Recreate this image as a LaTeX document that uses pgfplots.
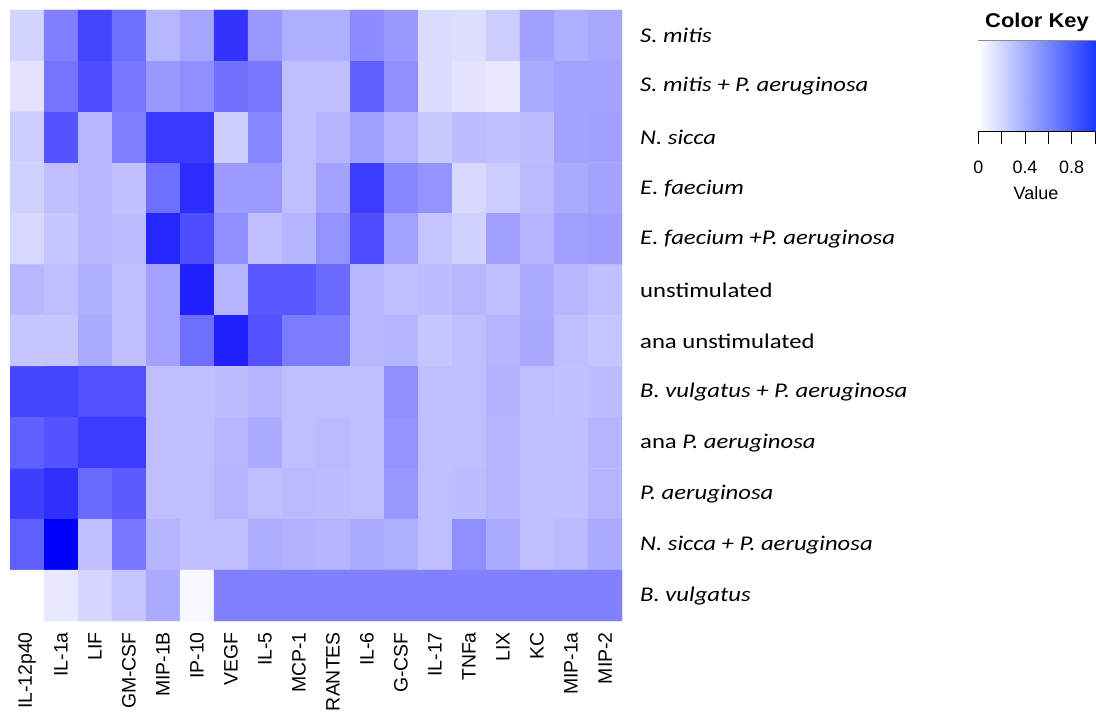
\documentclass[border=0pt]{standalone}
\usepackage{pgfplots}
\pgfplotsset{compat=1.18}
\usepackage{graphicx}
\usepackage{fontspec}
\setmainfont{Liberation Sans}
\newfontfamily\rowfont{Carlito}
% row names are set slightly wide
\newcommand\rl[1]{\scalebox{1.18}[1]{#1}}

% cytokine levels (scaled 0..1): column index, row index, value
\pgfplotstableread{
c r v
0 0 0.17
1 0 0.50
2 0 0.73
3 0 0.56
4 0 0.28
5 0 0.35
6 0 0.79
7 0 0.40
8 0 0.31
9 0 0.31
10 0 0.45
11 0 0.40
12 0 0.14
13 0 0.13
14 0 0.20
15 0 0.37
16 0 0.31
17 0 0.34
0 1 0.11
1 1 0.54
2 1 0.69
3 1 0.53
4 1 0.40
5 1 0.44
6 1 0.55
7 1 0.53
8 1 0.25
9 1 0.25
10 1 0.62
11 1 0.44
12 1 0.14
13 1 0.11
14 1 0.09
15 1 0.33
16 1 0.36
17 1 0.36
0 2 0.20
1 2 0.67
2 2 0.28
3 2 0.50
4 2 0.77
5 2 0.77
6 2 0.19
7 2 0.47
8 2 0.25
9 2 0.29
10 2 0.37
11 2 0.29
12 2 0.21
13 2 0.26
14 2 0.24
15 2 0.26
16 2 0.36
17 2 0.37
0 3 0.18
1 3 0.25
2 3 0.28
3 3 0.24
4 3 0.56
5 3 0.82
6 3 0.39
7 3 0.39
8 3 0.25
9 3 0.36
10 3 0.76
11 3 0.47
12 3 0.42
13 3 0.15
14 3 0.20
15 3 0.27
16 3 0.33
17 3 0.36
0 4 0.15
1 4 0.22
2 4 0.28
3 4 0.26
4 4 0.84
5 4 0.69
6 4 0.44
7 4 0.25
8 4 0.29
9 4 0.42
10 4 0.69
11 4 0.36
12 4 0.23
13 4 0.18
14 4 0.37
15 4 0.29
16 4 0.37
17 4 0.38
0 5 0.28
1 5 0.25
2 5 0.31
3 5 0.25
4 5 0.36
5 5 0.87
6 5 0.29
7 5 0.65
8 5 0.65
9 5 0.58
10 5 0.28
11 5 0.25
12 5 0.26
13 5 0.28
14 5 0.25
15 5 0.33
16 5 0.28
17 5 0.25
0 6 0.22
1 6 0.22
2 6 0.33
3 6 0.25
4 6 0.36
5 6 0.56
6 6 0.87
7 6 0.67
8 6 0.51
9 6 0.51
10 6 0.28
11 6 0.29
12 6 0.22
13 6 0.25
14 6 0.29
15 6 0.34
16 6 0.25
17 6 0.23
0 7 0.73
1 7 0.73
2 7 0.68
3 7 0.68
4 7 0.25
5 7 0.25
6 7 0.26
7 7 0.29
8 7 0.25
9 7 0.25
10 7 0.25
11 7 0.44
12 7 0.25
13 7 0.25
14 7 0.30
15 7 0.25
16 7 0.24
17 7 0.26
0 8 0.62
1 8 0.67
2 8 0.76
3 8 0.76
4 8 0.25
5 8 0.25
6 8 0.28
7 8 0.33
8 8 0.25
9 8 0.27
10 8 0.25
11 8 0.42
12 8 0.25
13 8 0.25
14 8 0.29
15 8 0.25
16 8 0.25
17 8 0.29
0 9 0.75
1 9 0.81
2 9 0.58
3 9 0.64
4 9 0.25
5 9 0.25
6 9 0.29
7 9 0.25
8 9 0.27
9 9 0.26
10 9 0.25
11 9 0.40
12 9 0.25
13 9 0.26
14 9 0.29
15 9 0.25
16 9 0.25
17 9 0.29
0 10 0.62
1 10 1.00
2 10 0.25
3 10 0.53
4 10 0.29
5 10 0.25
6 10 0.25
7 10 0.32
8 10 0.30
9 10 0.29
10 10 0.33
11 10 0.31
12 10 0.25
13 10 0.44
14 10 0.33
15 10 0.25
16 10 0.27
17 10 0.33
0 11 0.00
1 11 0.09
2 11 0.16
3 11 0.22
4 11 0.33
5 11 0.03
6 11 0.49
7 11 0.49
8 11 0.49
9 11 0.49
10 11 0.49
11 11 0.49
12 11 0.49
13 11 0.49
14 11 0.49
15 11 0.49
16 11 0.49
17 11 0.49
}\cytokines

\begin{document}
\begin{tikzpicture}[x=1bp,y=1bp]
\path[use as bounding box] (0,0) rectangle (1096,717);

% heat map
\begin{axis}[
  at={(10bp,96bp)}, anchor=south west,
  scale only axis, width=612bp, height=611bp,
  xmin=-0.5, xmax=17.5, ymin=-0.5, ymax=11.5, y dir=reverse,
  axis line style={draw=none}, major tick length=0pt,
  xtick={0,...,17}, ytick={0,...,11},
  xticklabels={IL-12p40,IL-1a,LIF,GM-CSF,MIP-1B,IP-10,VEGF,IL-5,MCP-1,RANTES,IL-6,G-CSF,IL-17,TNFa,LIX,KC,MIP-1a,MIP-2},
  yticklabels={
    \rl{\textit{S. mitis}},
    \rl{\textit{S. mitis + P. aeruginosa}},
    \rl{\textit{N. sicca}},
    \rl{\textit{E. faecium}},
    \rl{\textit{E. faecium +P. aeruginosa}},
    \rl{unstimulated},
    \rl{ana unstimulated},
    \rl{\textit{B. vulgatus + P. aeruginosa}},
    \rl{ana \textit{P. aeruginosa}},
    \rl{\textit{P. aeruginosa}},
    \rl{\textit{N. sicca + P. aeruginosa}},
    \rl{\textit{B. vulgatus}}},
  yticklabel pos=right,
  xticklabel style={yshift=-11bp, rotate=90, anchor=east, inner sep=0pt,
    font=\fontsize{19.5}{20}\selectfont},
  yticklabel style={anchor=west, inner sep=0pt, xshift=18bp,
    font=\rowfont\fontsize{21}{22}\selectfont},
  colormap={wb}{rgb255=(255,255,255) rgb255=(0,0,255)},
  point meta min=0, point meta max=1,
]
\addplot[matrix plot*, mesh/cols=18, point meta=explicit]
  table[x=c, y=r, meta=v] {\cytokines};
\end{axis}

% colour key
\begin{axis}[
  at={(978.3bp,585.3bp)}, anchor=south west,
  scale only axis, width=116.7bp, height=91bp,
  xmin=0, xmax=1, ymin=0, ymax=1,
  axis line style={draw=black!45, line width=0.6bp},
  ytick=\empty, xtick={0,0.2,0.4,0.6,0.8,1},
  xticklabels={0,,0.4,,0.8,},
  xtick pos=bottom, tick align=outside,
  major tick length=12bp, tick style={black, line width=1bp},
  xticklabel style={font=\fontsize{18}{19}\selectfont, yshift=-14bp},
  colormap={wbkey}{rgb255=(255,255,255) rgb255=(28,56,255)},
  point meta min=0, point meta max=1,
  clip=false,
]
\addplot[patch, shader=interp, point meta=explicit]
  coordinates {(0,0) [0] (1,0) [1] (1,1) [1]
               (0,0) [0] (1,1) [1] (0,1) [0]};
\draw[black, line width=1bp] (axis cs:0,0) -- (axis cs:1,0);
\end{axis}
\node[font=\bfseries\fontsize{20}{21}\selectfont] at (1037,695) {\scalebox{1.1}[1]{Color Key}};
\node[font=\fontsize{18}{19}\selectfont] at (1036,524) {Value};
\end{tikzpicture}
\end{document}
